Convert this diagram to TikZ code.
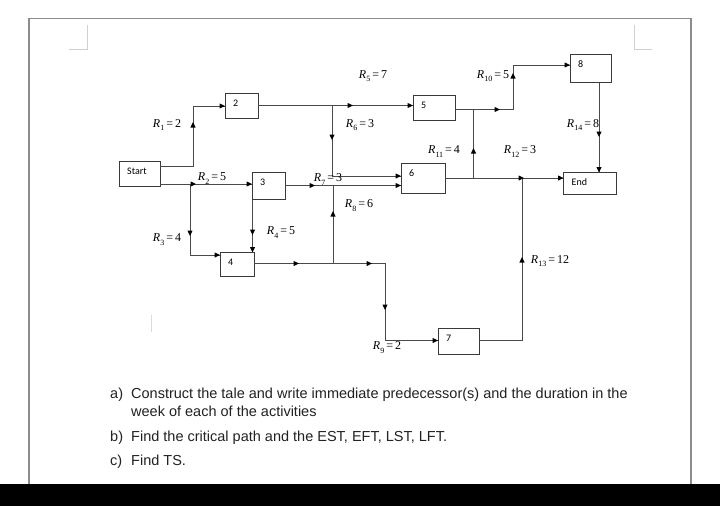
\documentclass[tikz,border=0pt]{standalone}
\usepackage{fontspec}
\setmainfont{Liberation Serif}
\newfontfamily\qfont{Liberation Sans}
\newfontfamily\bfont{Carlito}
\usetikzlibrary{calc}
\definecolor{lncol}{HTML}{4A4A4A}
\definecolor{boxcol}{HTML}{3A3A3A}
\definecolor{framecol}{HTML}{8C8C8C}
\definecolor{markcol}{HTML}{D0D0D0}
\definecolor{qcol}{HTML}{222222}
\newcommand\Rlab[2]{\textit{R}\kern0.2pt\raisebox{-0.28em}{\fontsize{8}{8}\selectfont #1}\kern2pt=\kern2pt#2}
\tikzset{
 ln/.style={draw=lncol, line width=0.8pt},
 boxst/.style={draw=boxcol, line width=0.8pt, anchor=north west, inner sep=0pt, outer sep=0pt},
 blab/.style={anchor=west, inner sep=0pt, font=\bfont\fontsize{10}{10}\selectfont},
 rlab/.style={inner sep=0pt, font=\fontsize{12}{12}\selectfont},
 qtext/.style={anchor=base west, inner sep=0pt, text=qcol, font=\qfont\fontsize{14.5}{16}\selectfont},
 pics/ah/.style={code={\fill[black] (0pt,0pt) -- (-5.5pt,2.6pt) -- (-5.5pt,-2.6pt) -- cycle;}},
}
\newcommand\mybox[6]{%
 \node[boxst, minimum width={#4pt-#2pt}, minimum height={#5pt-#3pt}] (#1) at (#2,#3) {};
 \node[blab] (#1t) at ([xshift=8pt,yshift=-10pt]#1.north west) {#6};}
\begin{document}
\begin{tikzpicture}[x=1pt,y=-1pt]
\useasboundingbox (0,0) rectangle (720,506);
\fill[white] (0,0) rectangle (720,506);
% page frame
\draw[framecol, line width=1.1pt] (29,484) -- (29,18.5) -- (691,18.5) -- (691,484);
\draw[markcol, line width=0.9pt] (69,49) -- (87,49) -- (87,25);
\draw[markcol, line width=0.9pt] (652,49) -- (634,49) -- (634,25);
\draw[markcol!80!white, line width=1pt] (151,315) -- (151,332);
\fill[black] (0,484) rectangle (720,506);

% boxes
\mybox{start}{119}{161.5}{160}{186}{Start}
\mybox{b2}{225}{93.5}{258}{118.5}{2}
\mybox{b3}{252}{172.5}{285}{199.5}{3}
\mybox{b4}{220}{252.5}{254}{276}{4}
\mybox{b5}{413}{95}{455}{120.5}{5}
\mybox{b6}{401}{163.5}{445}{193.5}{6}
\mybox{b7}{438}{328.5}{479}{354}{7}
\mybox{b8}{570}{54}{611.5}{82.5}{8}
\mybox{end}{563.5}{172.5}{616}{194.5}{End}

% junction coordinates
\coordinate (j1) at (193,166);
\coordinate (j1b) at (193,106);
\coordinate (j2) at (190,184);
\coordinate (j3) at (190,255);
\coordinate (j4) at (252.5,255);
\coordinate (j7) at (333,185.5);
\coordinate (j8) at (333,263.5);
\coordinate (j9) at (385,263.5);
\coordinate (j9b) at (385,340.5);
\coordinate (j5) at (332,105.5);
\coordinate (j6) at (332,176);
\coordinate (j10) at (473.5,109.5);
\coordinate (j10b) at (513,109.5);
\coordinate (j10c) at (513,65);
\coordinate (j11) at (473.5,178);
\coordinate (j13) at (522,178);
\coordinate (j13b) at (522,340.5);
\coordinate (j14) at (599,82.5);

% connectors
\draw[ln] (start.east |- j1) -- (j1) -- (j1b) -- (b2.west |- j1b);
\draw[ln] (start.east |- j2) -- (b3.west |- j2);
\draw[ln] (j2) -- (j3) -- (b4.west |- j3);
\draw[ln] (b3.south west -| j4) -- (b4.north west -| j4);
\draw[ln] (b3.east |- j7) -- (b6.west |- j7);
\draw[ln] (b4.east |- j8) -- (j9) -- (j9b) -- (b7.west |- j9b);
\draw[ln] (j8) -- (j7);
\draw[ln] (b2.east |- j5) -- (b5.west |- j5);
\draw[ln] (j5) -- (j6) -- (b6.west |- j6);
\draw[ln] (b5.east |- j10) -- (j10b) -- (j10c) -- (b8.west |- j10c);
\draw[ln] (j11) -- (j10);
\draw[ln] (b6.east |- j11) -- (end.west |- j11);
\draw[ln] (b7.east |- j13b) -- (j13b) -- (j13);
\draw[ln] (b8.south -| j14) -- (end.north -| j14);

% arrowheads
\pic[rotate=90] at (193,122) {ah};
\pic at (225,106) {ah};
\pic at (196,184) {ah};
\pic at (252,184) {ah};
\pic[rotate=-90] at (190,236) {ah};
\pic at (220,255) {ah};
\pic[rotate=-90] at (252.5,235) {ah};
\pic[rotate=-90] at (252.5,252.5) {ah};
\pic at (315,185.5) {ah};
\pic at (401,185.5) {ah};
\pic at (299,263.5) {ah};
\pic at (372,263.5) {ah};
\pic[rotate=-90] at (385,310) {ah};
\pic at (438,340.5) {ah};
\pic[rotate=90] at (333,211) {ah};
\pic at (353,105.5) {ah};
\pic at (413,105.5) {ah};
\pic[rotate=-90] at (332,140) {ah};
\pic at (401,176) {ah};
\pic at (500,109.5) {ah};
\pic[rotate=90] at (513,73) {ah};
\pic at (570,65) {ah};
\pic[rotate=90] at (473.5,148) {ah};
\pic at (524,178) {ah};
\pic at (563.5,178) {ah};
\pic[rotate=90] at (522,257) {ah};
\pic[rotate=-90] at (599,137) {ah};
\pic[rotate=-90] at (599,172.5) {ah};

% labels
\node[rlab] (l1) at (167,125) {\Rlab{1}{2}};
\node[rlab] (l2) at (212,178.5) {\Rlab{2}{5}};
\node[rlab] (l3) at (167,239.5) {\Rlab{3}{4}};
\node[rlab] (l4) at (281,232.5) {\Rlab{4}{5}};
\node[rlab] (l5) at (373,76) {\Rlab{5}{7}};
\node[rlab] (l6) at (360,125) {\Rlab{6}{3}};
\node[rlab] (l7) at (328,179.5) {\Rlab{7}{3}};
\node[rlab] (l8) at (359,205.5) {\Rlab{8}{6}};
\node[rlab] (l9) at (387,347.5) {\Rlab{9}{2}};
\node[rlab] (l10) at (493,76) {\Rlab{10}{5}};
\node[rlab] (l11) at (444,151.5) {\Rlab{11}{4}};
\node[rlab] (l12) at (520,151.5) {\Rlab{12}{3}};
\node[rlab] (l13) at (550,261) {\Rlab{13}{12}};
\node[rlab] (l14) at (583,125) {\Rlab{14}{8}};

% questions
\node[qtext] (qa) at (110,398) {a)};
\node[qtext] (qa1) at (131,398) {Construct the tale and write immediate predecessor(s) and the duration in the};
\node[qtext] (qa2) at (131,416) {week of each of the activities};
\node[qtext] (qb) at (110,441) {b)};
\node[qtext] (qb1) at (131,441) {Find the critical path and the EST, EFT, LST, LFT.};
\node[qtext] (qc) at (110,465) {c)};
\node[qtext] (qc1) at (131,465) {Find TS.};
\end{tikzpicture}
\end{document}
